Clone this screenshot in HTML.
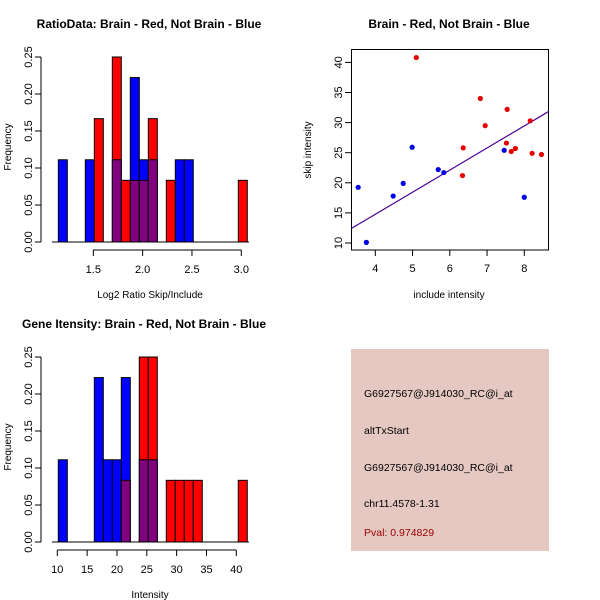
<!DOCTYPE html>
<html><head><meta charset="utf-8"><style>
body{margin:0;background:#fff}
svg{display:block;font-family:"Liberation Sans",sans-serif}
</style></head><body>
<svg id="c" width="600" height="600">
<rect width="600" height="600" fill="#fff"/>
</svg>
<script>
// Ratio histogram (bin index -> fraction)
const ratioRed  = [0,0,0,0,2/12,0,3/12,1/12,1/12,1/12,2/12,0,1/12,0,0,0,0,0,0,0,1/12];
const ratioBlue = [1/9,0,0,1/9,0,0,1/9,0,2/9,1/9,1/9,0,0,1/9,1/9,0,0,0,0,0,0];
const ratioStart = 1.1455, ratioWidth = 0.0912;
const ratioXTicks = [1.5,2.0,2.5,3.0];
const freqTicks = [0,0.05,0.10,0.15,0.20,0.25];
// Intensity histogram
const intRed  = [0,0,0,0,0,0,0,1/12,0,3/12,3/12,0,1/12,1/12,1/12,1/12,0,0,0,0,1/12];
const intBlue = [1/9,0,0,0,2/9,1/9,1/9,2/9,0,1/9,1/9,0,0,0,0,0,0,0,0,0,0];
const intStart = 10.17, intWidth = 1.508;
const intXTicks = [10,15,20,25,30,35,40];
// Scatter
const blueX = [3.54,3.76,4.48,4.75,4.99,5.69,5.84,7.46,8.0];
const blueY = [19.25,10.1,17.8,19.9,25.9,22.2,21.7,25.4,17.6];
const redX = [5.10,6.34,6.36,6.82,6.95,7.52,7.54,7.65,7.76,8.16,8.21,8.46];
const redY = [40.8,21.2,25.8,34.0,29.5,26.6,32.2,25.2,25.7,30.3,24.9,24.7];
const fitA = 0.09, fitB = 3.67;
const scX = [4,5,6,7,8];
const scY = [10,15,20,25,30,35,40];

const svg = document.getElementById('c');
const NS = 'http://www.w3.org/2000/svg';
function mk(tag, a, txt){const e=document.createElementNS(NS,tag);for(const k in a)e.setAttribute(k,a[k]);if(txt!==undefined)e.textContent=txt;svg.appendChild(e);return e;}

function hist(oy, red, blue, start, width, xmin, xmax, px0, px1, xticks, title, tx, xlab, pre){
  const base = oy+242, yS = v => base - v*740;
  const xS = v => px0 + (v-xmin)*(px1-px0)/(xmax-xmin);
  let t=mk('text',{x:tx,y:oy+28,'font-size':12,'font-weight':'bold','text-anchor':'middle'},title);
   
  for(let i=0;i<red.length;i++){
    const r=red[i], b=blue[i]; if(!r&&!b) continue;
    const x0=xS(start+i*width), w=xS(start+(i+1)*width)-x0;
    const hi=Math.max(r,b), lo=Math.min(r,b);
    let e=mk('rect',{x:x0,y:yS(hi),width:w,height:base-yS(hi),fill:r>=b?'#ff0000':'#0000ff',stroke:'#000','stroke-width':1});
     
    if(lo>0){e=mk('rect',{x:x0,y:yS(lo),width:w,height:base-yS(lo),fill:'#800080',stroke:'#000','stroke-width':1});
       }
  }
  mk('line',{x1:52,x2:249,y1:base,y2:base,stroke:'#000'});
  mk('line',{x1:41,x2:41,y1:yS(0),y2:yS(0.25),stroke:'#000'});
  freqTicks.forEach(v=>{mk('line',{x1:35,x2:41,y1:yS(v),y2:yS(v),stroke:'#000'});
    const l=mk('text',{x:32,y:yS(v),'font-size':11,'text-anchor':'middle',transform:`rotate(-90 32 ${yS(v)})`},v.toFixed(2));
     });
  mk('line',{x1:xS(xticks[0]),x2:xS(xticks[xticks.length-1]),y1:base+8,y2:base+8,stroke:'#000'});
  xticks.forEach(v=>{mk('line',{x1:xS(v),x2:xS(v),y1:base+8,y2:base+14,stroke:'#000'});
    const l=mk('text',{x:xS(v),y:base+31,'font-size':11,'text-anchor':'middle'},v%1===0&&v>5?String(v):v.toFixed(1));
     });
  t=mk('text',{x:150,y:base+56,'font-size':10,'text-anchor':'middle'},xlab);
   
  t=mk('text',{x:11,y:base-95,'font-size':10,'text-anchor':'middle',transform:`rotate(-90 11 ${base-95})`},'Frequency');
   
}
hist(0, ratioRed, ratioBlue, ratioStart, ratioWidth, 1.5, 3.0, 93.3, 241.3, ratioXTicks, 'RatioData: Brain - Red, Not Brain - Blue', 149, 'Log2 Ratio Skip/Include', 'ratio-hist');
hist(300, intRed, intBlue, intStart, intWidth, 10, 40, 57.3, 236.3, intXTicks, 'Gene Itensity: Brain - Red, Not Brain - Blue', 144, 'Intensity', 'intensity-hist');

// scatter
const sx = v => 375.3 + (v-4)*37.25, sy = v => 243 - (v-10)*6.02;
let t=mk('text',{x:449,y:28,'font-size':12,'font-weight':'bold','text-anchor':'middle'},'Brain - Red, Not Brain - Blue');
 
mk('rect',{x:351.5,y:49.5,width:197,height:200.5,fill:'none',stroke:'#000'});
scX.forEach(v=>{mk('line',{x1:sx(v),x2:sx(v),y1:250,y2:256,stroke:'#000'});
  const l=mk('text',{x:sx(v),y:272,'font-size':11,'text-anchor':'middle'},v);
   });
scY.forEach(v=>{mk('line',{x1:345,x2:351.5,y1:sy(v),y2:sy(v),stroke:'#000'});
  const l=mk('text',{x:342,y:sy(v),'font-size':11,'text-anchor':'middle',transform:`rotate(-90 342 ${sy(v)})`},v);
   });
t=mk('text',{x:449,y:298,'font-size':10,'text-anchor':'middle'},'include intensity');
 
t=mk('text',{x:311,y:150,'font-size':10,'text-anchor':'middle',transform:'rotate(-90 311 150)'},'skip intensity');
 
const xa=(351.5-375.3)/37.25+4, xb=(548.5-375.3)/37.25+4;
t=mk('line',{x1:sx(xa),y1:sy(fitA+fitB*xa),x2:sx(xb),y2:sy(fitA+fitB*xb),stroke:'#4b0096','stroke-width':1.2});
 
blueX.forEach((v,i)=>{const c=mk('circle',{cx:sx(v),cy:sy(blueY[i]),r:2.6,fill:'#0000e6'});
   });
redX.forEach((v,i)=>{const c=mk('circle',{cx:sx(v),cy:sy(redY[i]),r:2.6,fill:'#e60000'});
   });

// info box
t=mk('rect',{x:351,y:349,width:198,height:202,fill:'#e6c8c2'});
 
[['G6927567@J914030_RC@i_at',397,'#000','probe-id'],['altTxStart',434,'#000','event-type'],
 ['G6927567@J914030_RC@i_at',471,'#000','probe-id-2'],['chr11.4578-1.31',507,'#000','location'],
 ['Pval: 0.974829',536,'#990000','p-value']].forEach(a=>{
  const l=mk('text',{x:364,y:a[1],'font-size':10.5,fill:a[2]},a[0]);
   });
</script>
</body></html>
